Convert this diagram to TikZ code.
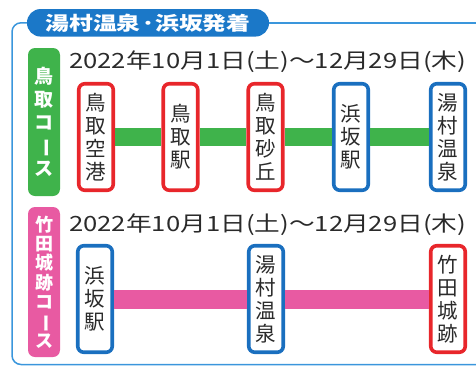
\documentclass[tikz,border=0pt]{standalone}
\usepackage{fontspec}
\setmainfont{Noto Sans CJK JP}
\usepackage{graphicx}
\definecolor{frameblue}{HTML}{3A96DC}
\definecolor{titleblue}{HTML}{1B78C8}
\definecolor{stblue}{HTML}{1A6FBF}
\definecolor{stred}{HTML}{E8262B}
\definecolor{cgreen}{HTML}{3FB34B}
\definecolor{cpink}{HTML}{E85AA2}
\definecolor{txt}{HTML}{2A2A2A}
\begin{document}
\begin{tikzpicture}[x=1pt,y=1pt,
  station/.style={draw, line width=3.6pt, fill=white, rounded corners=6pt,
    minimum width=34.5pt, minimum height=106.5pt, inner sep=0pt, align=center,
    text=txt, font=\fontsize{20.5}{23}\selectfont},
  redst/.style={station, draw=stred},
  bluest/.style={station, draw=stblue},
  course/.style={rounded corners=7pt, minimum width=32pt, inner sep=0pt,
    align=center, text=white, font=\bfseries\fontsize{19}{23}\selectfont},
  dateline/.style={anchor=base west, inner sep=0pt, text=txt},
  frame/.style={draw=frameblue, line width=1.5pt}
]
\useasboundingbox (0,0) rectangle (476,-367);
% title pill
\node[fill=titleblue, rounded corners=13.5pt, minimum width=242pt, minimum height=27.5pt,
  inner sep=0pt, text=white] (title) at (148,-22.8)
  {\resizebox{205pt}{\height}{\bfseries\fontsize{19}{19}\selectfont 湯村温泉\kern1pt･\kern1pt浜坂発着}};
\coordinate (tr) at (478,-22.8);
\coordinate (tl) at (12,-22.8);
\coordinate (bl) at (12,-364.5);
\coordinate (br) at (478,-364.5);
\draw[frame, rounded corners=9pt] (title.west) -- (tl) -- (bl) -- (br);
\draw[frame] (title.east) -- (tr);

% course labels
\node[course, fill=cgreen, minimum height=148pt] (c1) at (44,-122)
  {鳥\\取\\コ\\\rotatebox[origin=c]{-90}{ー}\\ス};
\node[course, fill=cpink, minimum height=150pt, font=\bfseries\fontsize{18}{19.4}\selectfont] (c2) at (44,-282)
  {竹\\田\\城\\跡\\コ\\\rotatebox[origin=c]{-90}{ー}\\ス};

% dates
\node[dateline] (d1) at (69,-68.3)
  {\resizebox{397pt}{\height}{\fontsize{21}{21}\selectfont 2022年10月1日(土)～12月29日(木)}};
\node[dateline] (d2) at (69,-231.5)
  {\resizebox{397pt}{\height}{\fontsize{21}{21}\selectfont 2022年10月1日(土)～12月29日(木)}};

% top row
\node[redst] (s1) at (96,-137) {鳥\\取\\空\\港};
\node[redst] (s2) at (180.5,-137) {鳥\\取\\駅};
\node[redst] (s3) at (265.5,-137) {鳥\\取\\砂\\丘};
\node[bluest] (s4) at (351,-137) {浜\\坂\\駅};
\node[bluest] (s5) at (448,-137) {湯\\村\\温\\泉};
\foreach \a/\b in {s1/s2,s2/s3,s3/s4,s4/s5}
  \draw[cgreen, line width=18pt] (\a.east) -- (\b.west);

% bottom row
\node[bluest] (t1) at (95,-299) {浜\\坂\\駅};
\node[bluest] (t2) at (266,-299) {湯\\村\\温\\泉};
\node[redst] (t3) at (448,-299) {竹\\田\\城\\跡};
\foreach \a/\b in {t1/t2,t2/t3}
  \draw[cpink, line width=19pt] (\a.east) -- (\b.west);
\end{tikzpicture}
\end{document}
